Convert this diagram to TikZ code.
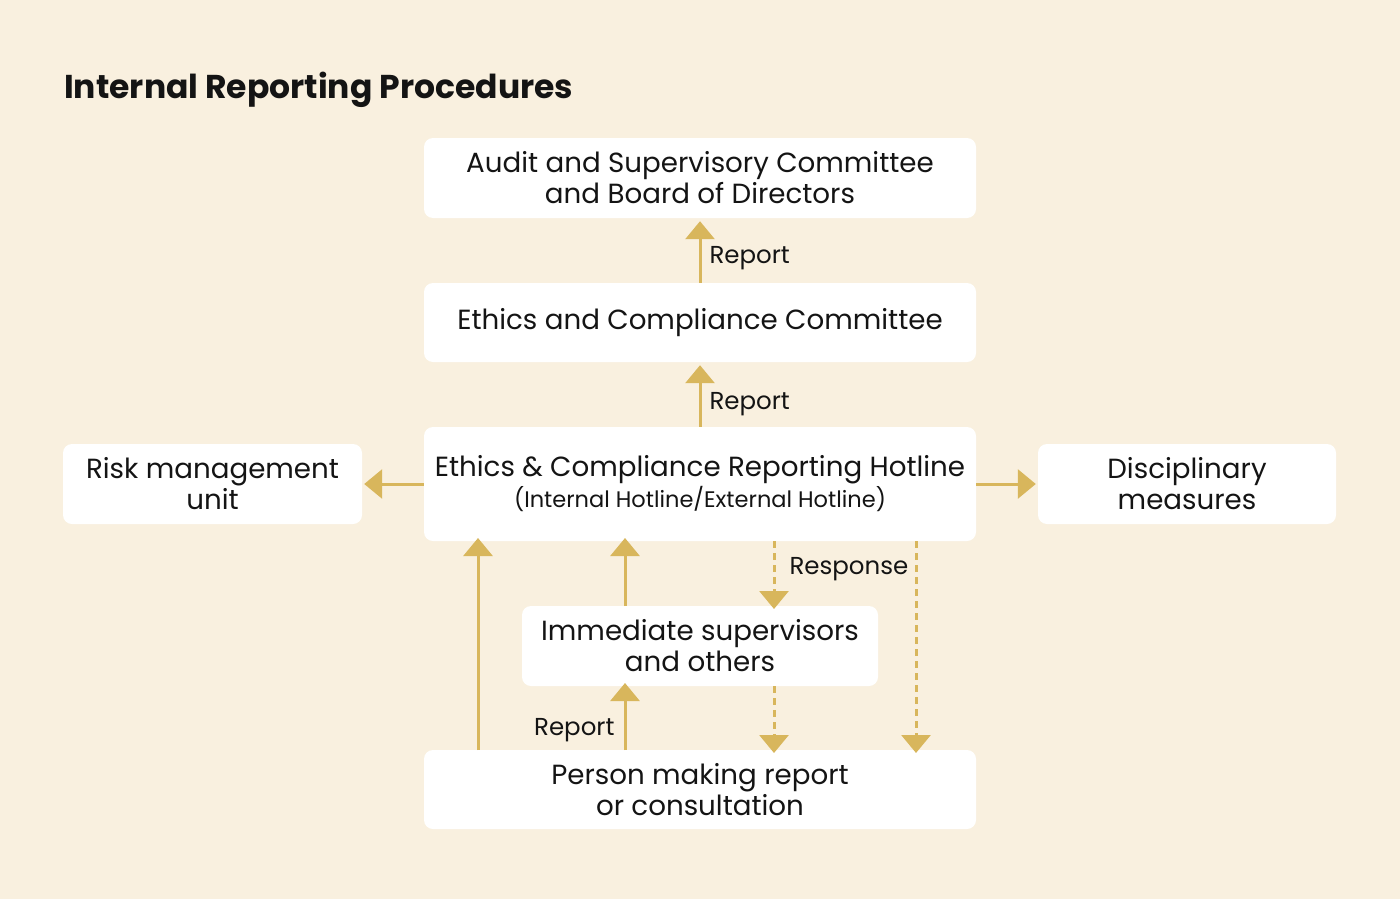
\documentclass[tikz,border=0pt]{standalone}
\usepackage{fontspec}
\setmainfont{Poppins}
\usetikzlibrary{arrows.meta}
\definecolor{bgc}{HTML}{F9F0DF}
\definecolor{gold}{HTML}{D8B65C}
\definecolor{txt}{HTML}{141414}
\tikzset{
  box/.style={draw=none, fill=white, rounded corners=9pt, inner sep=0pt, align=center, text=txt, font=\fontsize{27.7}{31}\selectfont},
  arr/.style={draw=gold, line width=3pt, -{Triangle[width=29pt,length=18pt]}},
  darr/.style={arr, dash pattern=on 7pt off 5pt},
  lbl/.style={font=\fontsize{24.5}{27}\selectfont, inner sep=0pt, text=txt}
}
\begin{document}
\begin{tikzpicture}[x=1pt,y=-1pt]
\fill[bgc] (0,0) rectangle (1400,899);
\useasboundingbox (0,0) rectangle (1400,899);
\node[anchor=base west, inner sep=0pt, text=txt, font=\fontsize{33}{38}\selectfont\bfseries] (title) at (64,99) {Internal Reporting Procedures};
% boxes
\node[box, minimum width=552pt, minimum height=80pt] (A) at (700,178) {Audit and Supervisory Committee\\and Board of Directors};
\node[box, minimum width=552pt, minimum height=79pt] (E) at (700,322.5) {Ethics and Compliance Committee};
\node[box, minimum width=552pt, minimum height=114pt] (H) at (700,484) {Ethics \& Compliance Reporting Hotline\\[0pt]{\fontsize{22.5}{26}\selectfont (Internal Hotline/External Hotline)}};
\node[box, minimum width=299pt, minimum height=80pt] (R) at (212.5,484) {Risk management\\unit};
\node[box, minimum width=298pt, minimum height=80pt] (D) at (1187,484) {Disciplinary\\measures};
\node[box, minimum width=356pt, minimum height=80pt] (I) at (700,646) {Immediate supervisors\\and others};
\node[box, minimum width=552pt, minimum height=79pt] (P) at (700,789.5) {Person making report\\or consultation};
% arrows
\draw[arr] (E.north) -- ([yshift=-3pt]A.south) node[lbl, pos=0.40, anchor=west, xshift=8pt] {Report};
\draw[arr] (H.north) -- ([yshift=-3pt]E.south) node[lbl, pos=0.36, anchor=west, xshift=8pt] {Report};
\draw[arr] (H.west) -- ([xshift=2pt]R.east);
\draw[arr] (H.east) -- ([xshift=-2pt]D.west);
\coordinate (p1) at (478,750);
\coordinate (h1) at (478,541);
\draw[arr] (p1) -- ([yshift=3pt]h1);
\coordinate (i1) at (625,606);
\coordinate (h2) at (625,541);
\draw[arr] (i1) -- ([yshift=3pt]h2);
\coordinate (p2) at (625,750);
\coordinate (i2) at (625,686);
\draw[arr] (p2) -- ([yshift=3pt]i2) node[lbl, pos=0.3, anchor=east, xshift=-9pt] {Report};
\coordinate (h3) at (774,541);
\coordinate (i3) at (774,606);
\draw[darr] (h3) -- ([yshift=-3pt]i3) node[lbl, pos=0.42, anchor=west, xshift=14pt] {Response};
\coordinate (i4) at (774,686);
\coordinate (p4) at (774,750);
\draw[darr] (i4) -- ([yshift=-3pt]p4);
\coordinate (h5) at (916,541);
\coordinate (p5) at (916,750);
\draw[darr] (h5) -- ([yshift=-3pt]p5);
\end{tikzpicture}
\end{document}
